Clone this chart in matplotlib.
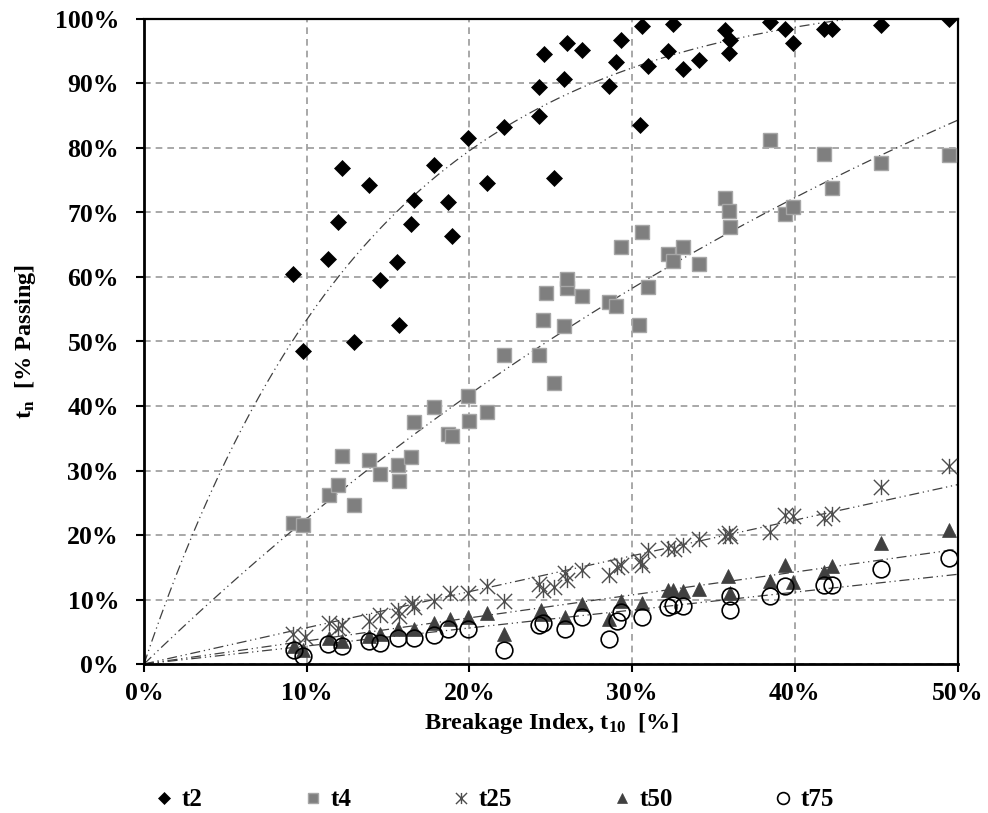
import numpy as np
import matplotlib
matplotlib.use("Agg")
import matplotlib.pyplot as plt
from matplotlib.path import Path
from matplotlib.lines import Line2D

plt.rcParams['font.family'] = ['Liberation Serif', 'DejaVu Serif']
plt.rcParams['font.weight'] = 'bold'
plt.rcParams['mathtext.fontset'] = 'custom'
plt.rcParams['mathtext.rm'] = 'Liberation Serif:bold'
plt.rcParams['mathtext.it'] = 'Liberation Serif:bold'
plt.rcParams['mathtext.bf'] = 'Liberation Serif:bold'

# ---- data: breakage index t10 [%] vs tn [% passing] ----
t2_x = [9.17, 9.8, 11.3, 11.9, 12.2, 12.9, 13.8, 14.5, 15.55, 15.7, 16.4, 16.6, 17.8,
        18.7, 18.9, 19.9, 21.1, 22.1, 24.3, 24.3, 24.6, 25.2, 25.8, 26.0, 26.9, 28.6,
        29.0, 29.3, 30.5, 30.6, 31.0, 32.2, 32.5, 33.1, 34.1, 35.7, 36.0, 35.95, 38.5,
        39.4, 39.9, 41.8, 42.3, 45.3, 49.5]
t2_y = [60.5, 48.6, 62.8, 68.6, 76.9, 49.9, 74.2, 59.5, 62.3, 52.5, 68.2, 71.9, 77.4,
        71.7, 66.3, 81.6, 74.5, 83.3, 84.9, 89.4, 94.6, 75.4, 90.7, 96.3, 95.2, 89.6,
        93.4, 96.8, 83.5, 98.9, 92.7, 95.1, 99.2, 92.3, 93.7, 98.3, 96.7, 94.8, 99.6,
        98.5, 96.3, 98.5, 98.4, 99.1, 100.0]

t4_x = [9.18, 9.8, 11.35, 11.9, 12.2, 12.9, 13.8, 14.5, 15.6, 15.7, 16.4, 16.6, 17.8,
        18.7, 18.9, 19.9, 20.0, 21.1, 22.1, 24.3, 24.5, 25.2, 25.8, 24.7, 26.0, 26.0,
        26.9, 28.6, 29.0, 29.3, 30.4, 30.6, 31.0, 32.2, 32.5, 33.1, 34.1, 35.7, 35.95,
        36.0, 38.5, 39.4, 39.9, 41.8, 42.3, 45.3, 49.5]
t4_y = [21.9, 21.6, 26.2, 27.8, 32.3, 24.6, 31.6, 29.5, 30.9, 28.4, 32.1, 37.5, 39.8,
        35.6, 35.4, 41.6, 37.6, 39.1, 47.9, 47.9, 53.4, 43.6, 52.4, 57.5, 58.3, 59.7,
        57.1, 56.1, 55.5, 64.7, 52.5, 67.0, 58.5, 63.5, 62.5, 64.6, 62.0, 72.2, 70.2,
        67.8, 81.2, 69.7, 70.8, 79.1, 73.8, 77.6, 78.9]

t25_x = [9.14, 9.9, 11.4, 11.9, 12.2, 13.8, 14.5, 15.6, 15.7, 16.5, 16.6, 17.8, 18.8,
         19.9, 21.1, 22.1, 24.3, 24.5, 25.2, 25.9, 26.0, 26.9, 28.6, 29.05, 29.3, 30.5,
         30.6, 31.0, 32.2, 32.6, 33.1, 34.1, 35.7, 35.95, 36.0, 38.5, 39.4, 39.9, 41.8,
         42.3, 45.3, 49.5]
t25_y = [4.7, 4.2, 6.4, 5.6, 6.0, 6.6, 7.6, 8.4, 7.5, 9.4, 8.9, 9.7, 11.0,
         11.0, 12.1, 9.8, 12.4, 11.5, 11.9, 14.1, 13.0, 14.6, 13.8, 15.1, 15.4, 15.9,
         15.3, 17.7, 18.0, 17.8, 18.5, 19.4, 19.8, 20.3, 19.8, 20.4, 23.1, 22.9, 22.6,
         23.3, 27.5, 30.7]

t50_x = [9.2, 9.8, 11.4, 12.15, 13.85, 14.5, 15.6, 16.6, 17.8, 18.8, 19.9, 21.1, 22.1,
         24.4, 24.5, 25.9, 26.9, 28.6, 29.3, 30.6, 32.2, 32.5, 33.1, 34.1, 35.9, 36.0,
         38.5, 39.4, 39.9, 41.8, 42.3, 45.3, 49.5]
t50_y = [2.8, 2.2, 4.0, 3.5, 4.4, 4.7, 5.5, 5.5, 6.3, 6.9, 7.3, 7.9, 4.7,
         8.3, 7.8, 7.3, 9.3, 6.9, 9.7, 9.5, 11.4, 11.4, 11.3, 11.6, 13.6, 11.0,
         12.9, 15.4, 12.7, 14.3, 15.2, 18.8, 20.7]

t75_x = [9.2, 9.8, 11.3, 12.2, 13.85, 14.5, 15.6, 16.6, 17.8, 18.7, 19.9, 22.1, 24.3,
         24.5, 25.9, 26.9, 28.6, 29.05, 29.3, 30.6, 32.2, 32.5, 33.1, 36.0, 36.0, 38.5,
         39.4, 41.8, 42.3, 45.3, 49.5]
t75_y = [2.2, 1.2, 3.1, 2.8, 3.5, 3.3, 4.1, 4.1, 4.5, 5.5, 5.4, 2.1, 6.1,
         6.4, 5.5, 7.3, 3.8, 6.6, 8.0, 7.3, 8.8, 9.2, 9.0, 10.6, 8.4, 10.5,
         12.1, 12.2, 12.2, 14.7, 16.5]

labels = ['t2', 't4', 't25', 't50', 't75']
# trend lines tn = A * (1 - exp(-k * t10)), coefficients
fit_A = [104.8, 154.6, 1000.0, 1000.0, 1000.0]
fit_k = [0.0712, 0.01576, 0.000564, 0.000359, 0.000280]

# excel style "star" marker: an X with a vertical bar through it
star = Path([(-1, -1), (1, 1), (-1, 1), (1, -1), (0, -1), (0, 1)],
            [Path.MOVETO, Path.LINETO, Path.MOVETO, Path.LINETO, Path.MOVETO, Path.LINETO])

styles = [
    dict(marker='D', ms=8.3, mfc='black', mec='black', mew=0.5),
    dict(marker='s', ms=10.5, mfc='#7f7f7f', mec='#a6a6a6', mew=1.0),
    dict(marker=star, ms=11, mfc='none', mec='#4d4d4d', mew=1.0),
    dict(marker='^', ms=10.5, mfc='#404040', mec='#404040', mew=0.5),
    dict(marker='o', ms=12, mfc='none', mec='black', mew=1.2),
]
series = [(t2_x, t2_y), (t4_x, t4_y), (t25_x, t25_y), (t50_x, t50_y), (t75_x, t75_y)]

fig = plt.figure(figsize=(9.88, 8.13), dpi=100)
ax = fig.add_axes([144 / 988, 1 - 664 / 813, (957.5 - 144) / 988, (664 - 19) / 813])

xx = np.linspace(0, 50, 300)
for A, k in zip(fit_A, fit_k):
    ax.plot(xx, A * (1 - np.exp(-k * xx)), color='#404040', lw=0.9,
            linestyle=(0, (8, 3, 1, 3, 1, 3)), zorder=2)

for (x, y), st in zip(series, styles):
    ax.plot(x, y, linestyle='none', zorder=3, **st)

ax.set_xlim(0, 50)
ax.set_ylim(0, 100)
ax.set_xticks(np.arange(0, 51, 10))
ax.set_yticks(np.arange(0, 101, 10))
ax.set_xticklabels([f"{v}%" for v in range(0, 51, 10)])
ax.set_yticklabels([f"{v}%" for v in range(0, 101, 10)])
ax.tick_params(direction='out', length=6, width=1.5, labelsize=18.5)
ax.tick_params(axis='y', pad=12)
ax.tick_params(axis='x', pad=7)
ax.grid(True, color='#999999', linestyle=(0, (4, 3)), linewidth=1.2, zorder=0)
ax.set_axisbelow(True)
for side in ['left', 'bottom']:
    ax.spines[side].set_linewidth(2)
for side in ['top', 'right']:
    ax.spines[side].set_linewidth(1.6)

ax.set_xlabel(r"Breakage Index, t$_\mathrm{10}$  [%]", fontsize=17.5, fontweight='bold', labelpad=4)
ax.set_ylabel(r"t$_\mathrm{n}$  [% Passing]", fontsize=17.5, fontweight='bold', labelpad=12)

handles = []
leg_sizes = [6, 7, 8, 7.5, 8.5]
for st, s in zip(styles, leg_sizes):
    st2 = dict(st)
    st2['ms'] = s
    handles.append(Line2D([], [], linestyle='none', **st2))
fig.legend(handles, labels, loc='center', bbox_to_anchor=(0.5, 0.016), ncol=5,
           frameon=False, handlelength=0.8, handletextpad=0.3, columnspacing=4.0,
           prop={'size': 18, 'weight': 'bold'})

fig.savefig('out.png', dpi=100)
